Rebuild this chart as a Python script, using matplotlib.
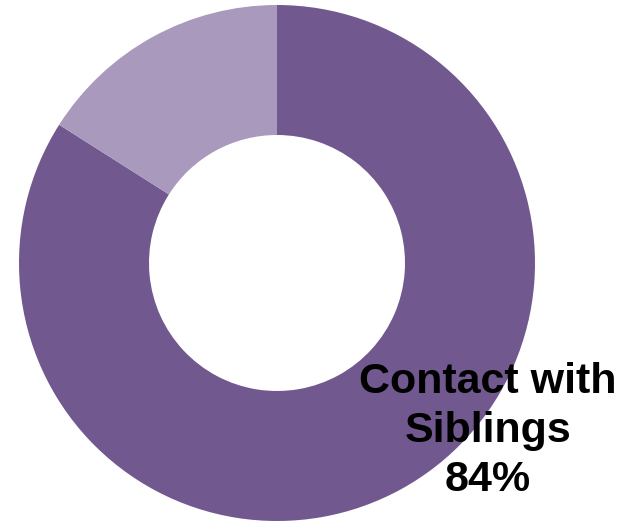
import matplotlib.pyplot as plt

# data
labels = ['Contact with\nSiblings', 'No Contact']
values = [84, 16]
colors = ['#71588f', '#a899bd']

W, H = 635, 528
cx, cy, r_out, r_in = 277, 263, 258, 128

fig = plt.figure(figsize=(W / 100, H / 100), dpi=100)
ax = fig.add_axes([0, 0, 1, 1])

ax.pie(values, colors=colors, startangle=90, counterclock=False,
       radius=1, wedgeprops=dict(width=1 - r_in / r_out, linewidth=0))

# label for the big slice
ax.text((488 - cx) / r_out, (cy - 431) / r_out,
        f'{labels[0]}\n{values[0]}%', ha='center', va='center',
        fontsize=31, fontweight='bold', family='Liberation Sans',
        linespacing=1.3, color='black')

ax.set_xlim(-cx / r_out, (W - cx) / r_out)
ax.set_ylim(-(H - cy) / r_out, cy / r_out)
ax.set_aspect('auto')
ax.axis('off')

fig.savefig('out.png', dpi=100)
